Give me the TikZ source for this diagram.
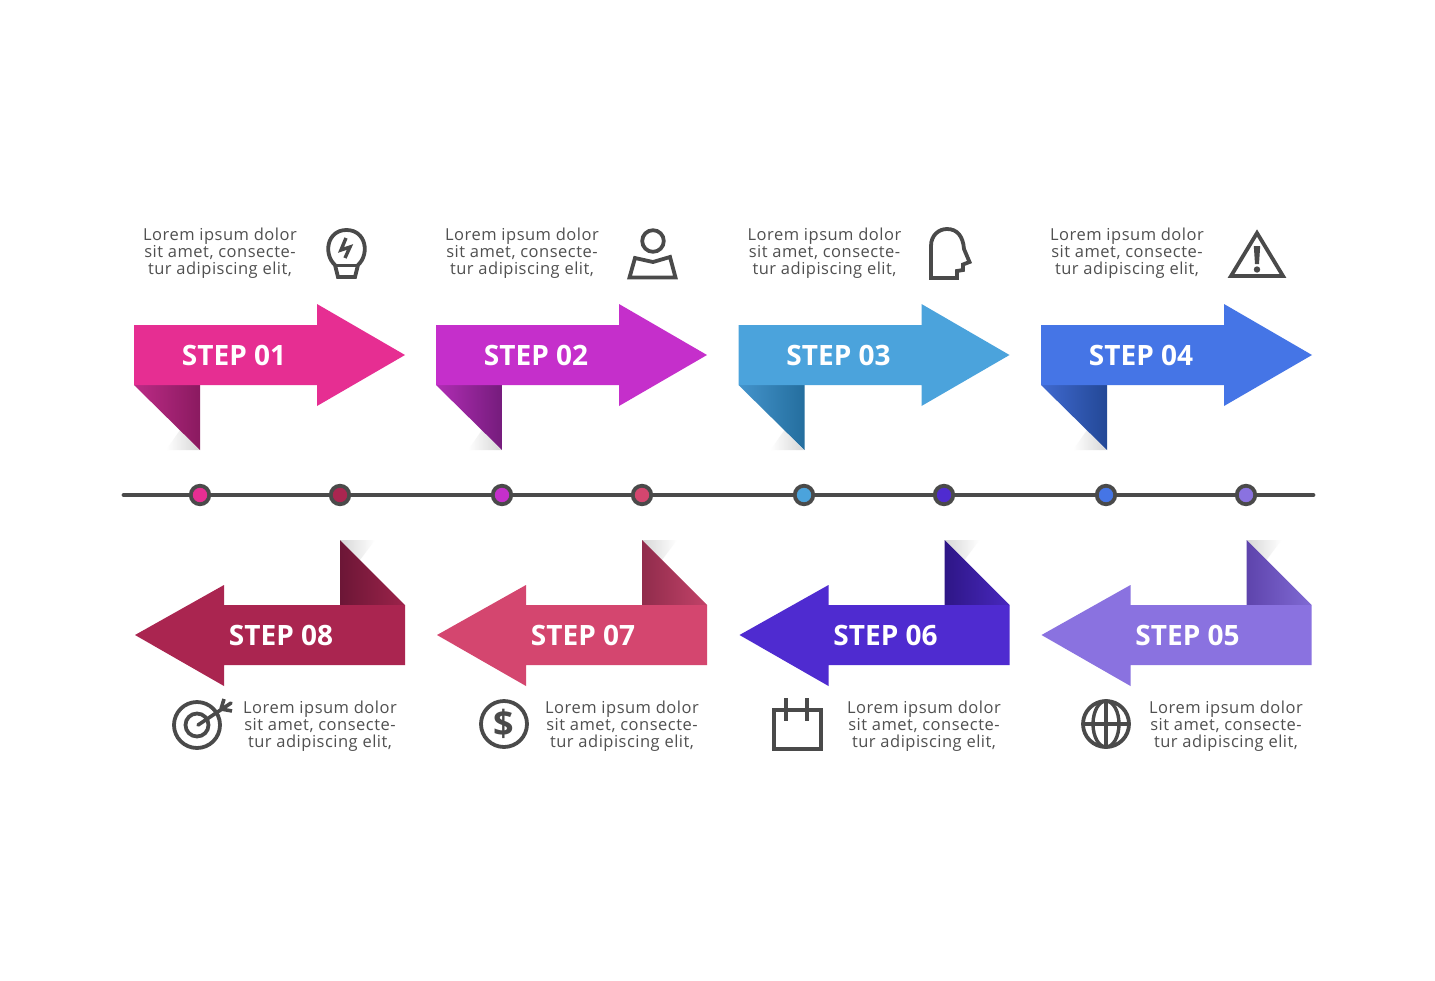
\documentclass[tikz,border=0pt]{standalone}
\usepackage{fontspec}
\setmainfont{Open Sans}
\newfontfamily\loremfont[LetterSpace=3]{Open Sans}
\definecolor{ink}{HTML}{4A4A4A}
\definecolor{txt}{HTML}{505050}
\definecolor{ca}{HTML}{E62E92}\definecolor{caL}{HTML}{BC2B86}\definecolor{caR}{HTML}{8A1A60}
\definecolor{cb}{HTML}{C52FCB}\definecolor{cbL}{HTML}{B02DB4}\definecolor{cbR}{HTML}{751C7C}
\definecolor{cc}{HTML}{4BA3DC}\definecolor{ccL}{HTML}{4494CC}\definecolor{ccR}{HTML}{246E9E}
\definecolor{cd}{HTML}{4575E6}\definecolor{cdL}{HTML}{4069D0}\definecolor{cdR}{HTML}{234896}
\definecolor{ce}{HTML}{8A72E0}\definecolor{ceL}{HTML}{806AD4}\definecolor{ceR}{HTML}{5E44AC}
\definecolor{cf}{HTML}{4F2BD0}\definecolor{cfL}{HTML}{4828BE}\definecolor{cfR}{HTML}{2E1686}
\definecolor{cg}{HTML}{D4466F}\definecolor{cgL}{HTML}{C24268}\definecolor{cgR}{HTML}{902C4C}
\definecolor{ch}{HTML}{AA2550}\definecolor{chL}{HTML}{9C234A}\definecolor{chR}{HTML}{6C1636}
\tikzset{
  x=1pt,y=-1pt,
  bodytext/.style={align=center,text=txt,font=\loremfont\fontsize{16.5}{17}\selectfont,inner sep=0pt},
  steptext/.style={text=white,font=\fontsize{28}{30}\bfseries\selectfont,inner sep=0pt},
  icon/.style={draw=ink,line width=3.8pt,line join=miter},
  dot/.style={circle,draw=ink,line width=3.8pt,minimum size=18.5pt,inner sep=0pt},
}
% #1 offset, #2 colour stem, #3 label, #4 node name
\newcommand{\toparrow}[4]{%
  \begin{scope}[xshift=#1pt]
    \shade[left color=white,right color=black!16] (180,430) -- (199,450) -- (166,450) -- cycle;
    \shade[left color=#2L,right color=#2R] (134,385) -- (200,385) -- (200,450) -- cycle;
    \fill[#2] (134,325) -- (317,325) -- (317,304) -- (405,355) -- (317,406) -- (317,385) -- (134,385) -- cycle;
    \node[steptext] (#4) at (234,355) {#3};
  \end{scope}}
\newcommand{\botarrow}[4]{%
  \begin{scope}[xshift=#1pt]
    \shade[left color=black!16,right color=white] (340,540) -- (375,540) -- (360,560) -- cycle;
    \shade[left color=#2R,right color=#2L] (340,605) -- (405,605) -- (340,540) -- cycle;
    \fill[#2] (405,605) -- (224,605) -- (224,585) -- (135,635) -- (224,686) -- (224,665) -- (405,665) -- cycle;
    \node[steptext] (#4) at (281,635) {#3};
  \end{scope}}
\newcommand{\lorem}[3]{\node[bodytext] (#1) at (#2,#3) {Lorem ipsum dolor\\sit amet, consecte-\\tur adipiscing elit,};}
\begin{document}
\begin{tikzpicture}
\useasboundingbox (0,0) rectangle (1435,980);
\fill[white] (0,0) rectangle (1435,980);

\toparrow{0}{ca}{STEP 01}{s1}
\toparrow{302}{cb}{STEP 02}{s2}
\toparrow{604.5}{cc}{STEP 03}{s3}
\toparrow{907}{cd}{STEP 04}{s4}
\botarrow{0}{ch}{STEP 08}{s8}
\botarrow{302}{cg}{STEP 07}{s7}
\botarrow{604.5}{cf}{STEP 06}{s6}
\botarrow{906.5}{ce}{STEP 05}{s5}

\lorem{t1}{220}{253.5}
\lorem{t2}{522}{253.5}
\lorem{t3}{824.5}{253.5}
\lorem{t4}{1127}{253.5}
\lorem{t8}{320}{726.5}
\lorem{t7}{622}{726.5}
\lorem{t6}{924}{726.5}
\lorem{t5}{1226}{726.5}

% timeline
\coordinate (lineL) at (124,495);
\coordinate (lineR) at (1313,495);
\draw[ink,line width=4.8pt,line cap=round] (lineL) -- (lineR);
\node[dot,fill=ca] (d1) at (200,495) {};
\node[dot,fill=ch] (d2) at (340,495) {};
\node[dot,fill=cb] (d3) at (502,495) {};
\node[dot,fill=cg] (d4) at (642,495) {};
\node[dot,fill=cc] (d5) at (804,495) {};
\node[dot,fill=cf] (d6) at (944,495) {};
\node[dot,fill=cd] (d7) at (1106,495) {};
\node[dot,fill=ce] (d8) at (1246,495) {};

% bulb
\draw[icon] (335,265) .. controls (323,254) and (327,230) .. (346.5,230) .. controls (366,230) and (370,254) .. (358,265) -- (355,277) -- (338,277) -- cycle;
\draw[icon] (335,265.5) -- (358,265.5);
\draw[ink,line width=3.4pt] (346,238) -- (341,250) -- (350,247) -- (345,258);
% person with map
\draw[icon] (653,241) circle[radius=10.8];
\draw[icon] (635,258) -- (653,262) -- (670,257) -- (675.5,277.5) -- (629.5,277.5) -- cycle;
% head
\draw[icon] (931,278) -- (931,246) .. controls (931,235) and (939,229) .. (947,229) .. controls (957,229) and (963,236) .. (964,249) -- (969.5,262) -- (963,264.5) -- (963,270) -- (957,271) -- (957,278) -- cycle;
% warning
\draw[icon] (1257,233) -- (1283,276) -- (1231,276) -- cycle;
\fill[ink] (1253.8,246) -- (1260.2,246) -- (1259,264) -- (1255,264) -- cycle;
\fill[ink] (1257,269.5) circle[radius=3.2];
% target
\draw[icon] (197,725) circle[radius=23];
\draw[icon] (197,725) circle[radius=11.5];
\draw[ink,line width=3.6pt,line cap=round] (198,725) -- (231,703);
\draw[ink,line width=3.6pt] (221,709) -- (224,699);
\draw[ink,line width=3.6pt] (221,709) -- (232,711);
% dollar
\draw[icon] (504,724) circle[radius=23];
\node[inner sep=0pt,text=ink,font=\fontsize{36}{36}\bfseries\selectfont] (dollar) at (504,724) {\$};
% calendar
\draw[icon] (774,710) rectangle (821,749);
\draw[icon] (786,698) -- (786,721);
\draw[icon] (807,698) -- (807,721);
% globe
\draw[icon] (1106,724) circle[radius=23];
\draw[ink,line width=3.4pt] (1106,724) ellipse[x radius=13,y radius=23];
\draw[ink,line width=3.4pt] (1106,701) -- (1106,747);
\draw[ink,line width=3.4pt] (1083,724) -- (1129,724);
\end{tikzpicture}
\end{document}
